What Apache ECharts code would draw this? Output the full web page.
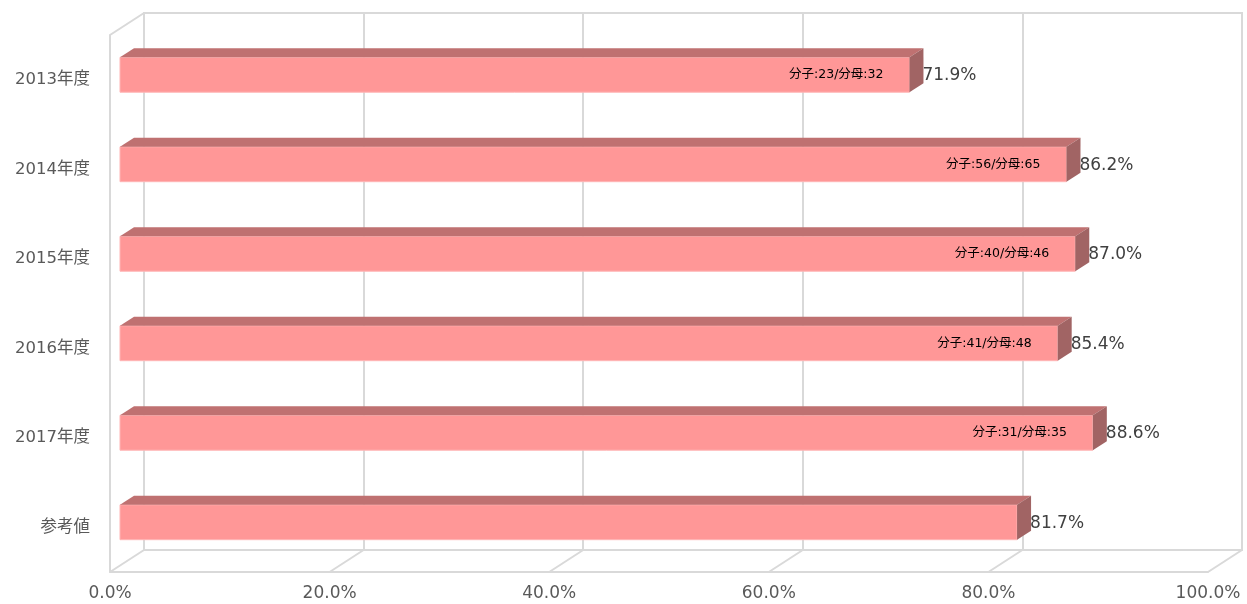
<!DOCTYPE html>
<html>
<head>
<meta charset="utf-8">
<script src="https://cdn.jsdelivr.net/npm/echarts@6/dist/echarts.min.js"></script>
<style>html,body{margin:0;padding:0;background:#fff;}#c{width:1247px;height:604px;}</style>
</head>
<body>
<div id="c"></div>
<script>
const categories = ['2013年度','2014年度','2015年度','2016年度','2017年度','参考値'];
const rates = [71.9, 86.2, 87.0, 85.4, 88.6, 81.7];
const numerators = [23, 56, 40, 41, 31, null];
const denominators = [32, 65, 46, 48, 35, null];
const ticks = [0, 20, 40, 60, 80, 100];

const FONT = '"DejaVu Sans", "Noto Sans CJK JP", sans-serif';
const GRID_COLOR = '#d9d9d9';
const DX = 34, DY = -22;

const chart = echarts.init(document.getElementById('c'));

function renderBar(params, api) {
  const cat = api.value(0);
  const v = api.value(1);
  const idx = params.dataIndex;
  const p0 = api.coord([0, cat]);
  const p1 = api.coord([v, cat]);
  const band = api.size([0, 1])[1];
  const h = band * 0.39;
  const ox = 10, oy = -5;
  const x0 = p0[0] + ox, x1 = p1[0] + ox, yc = p0[1] + oy;
  const yt = yc - h / 2, yb = yc + h / 2;
  const dx = 14, dy = -9;
  const children = [
    { type: 'rect', shape: { x: x0, y: yt, width: x1 - x0, height: h },
      style: { fill: '#FF9797', stroke: '#FFB5B5', lineWidth: 1 } },
    { type: 'polygon', shape: { points: [[x0, yt], [x0 + dx, yt + dy], [x1 + dx, yt + dy], [x1, yt]] },
      style: { fill: '#BF7171' } },
    { type: 'polygon', shape: { points: [[x1, yt], [x1 + dx, yt + dy], [x1 + dx, yb + dy], [x1, yb]] },
      style: { fill: '#A16464' } },
    { type: 'text', style: { x: x1 + dx - 1, y: yc + 1, text: v.toFixed(1) + '%', align: 'left', verticalAlign: 'middle',
      fill: '#404040', font: '17px ' + FONT } }
  ];
  if (numerators[idx] != null) {
    children.push({ type: 'text', style: { x: x1 - 26, y: yc, text: '分子:' + numerators[idx] + '/分母:' + denominators[idx],
      align: 'right', verticalAlign: 'middle', fill: '#000', font: '12.5px ' + FONT } });
  }
  return { type: 'group', children };
}

function renderFloor(params, api) {
  const t = api.value(0);
  const cs = params.coordSys;
  const x = api.coord([t, 0])[0];
  const bottom = cs.y + cs.height;
  const children = [
    { type: 'line', shape: { x1: x, y1: bottom, x2: x + DX, y2: bottom + DY },
      style: { stroke: GRID_COLOR, lineWidth: 2 } }
  ];
  if (params.dataIndex === 0) {
    children.push({ type: 'line', shape: { x1: x, y1: cs.y, x2: x + DX, y2: cs.y + DY },
      style: { stroke: GRID_COLOR, lineWidth: 2 } });
  }
  return { type: 'group', children };
}

chart.setOption({
  animation: false,
  textStyle: { fontFamily: FONT },
  grid: [
    { left: 110, top: 35, width: 1098, height: 537 },
    { left: 110 + DX, top: 35 + DY, width: 1098, height: 537, show: true, borderColor: GRID_COLOR, borderWidth: 2 }
  ],
  xAxis: [
    { type: 'value', gridIndex: 0, min: 0, max: 100, interval: 20,
      axisLine: { show: true, lineStyle: { color: GRID_COLOR, width: 2 } },
      axisTick: { show: false }, splitLine: { show: false },
      axisLabel: { formatter: v => v.toFixed(1) + '%', color: '#595959', fontSize: 17, margin: 13, fontFamily: FONT } },
    { type: 'value', gridIndex: 1, min: 0, max: 100, interval: 20,
      axisLine: { show: false }, axisTick: { show: false }, axisLabel: { show: false },
      splitLine: { show: true, lineStyle: { color: GRID_COLOR, width: 2 } } }
  ],
  yAxis: [
    { type: 'category', gridIndex: 0, data: categories, inverse: true,
      axisLine: { show: true, lineStyle: { color: GRID_COLOR, width: 2 } },
      axisTick: { show: false }, splitLine: { show: false },
      axisLabel: { color: '#595959', fontSize: 16.5, margin: 20, padding: [6, 0, 0, 0], fontFamily: FONT } },
    { type: 'category', gridIndex: 1, data: categories, inverse: true, show: false }
  ],
  series: [
    { type: 'custom', xAxisIndex: 0, yAxisIndex: 0, renderItem: renderFloor,
      data: ticks.map(t => [t]), encode: { x: 0 }, silent: true, z: 1 },
    { type: 'custom', xAxisIndex: 0, yAxisIndex: 0, renderItem: renderBar,
      data: rates.map((v, i) => [i, v]), encode: { y: 0, x: 1 }, z: 5 }
  ]
});
</script>
</body>
</html>
